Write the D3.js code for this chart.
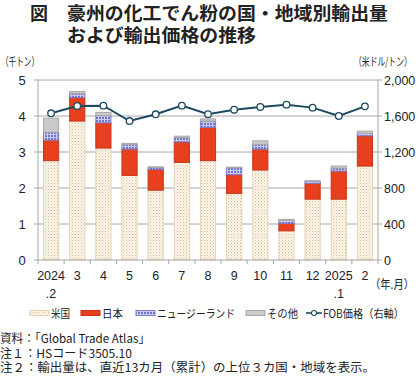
<!DOCTYPE html>
<html><head><meta charset="utf-8">
<script src="https://cdn.jsdelivr.net/npm/d3@7"></script>
<style>
body{margin:0;background:#fff;}
svg{display:block;}
text{font-family:"Noto Sans CJK JP","Liberation Sans",sans-serif;}
.num{font-family:"Liberation Sans",Arial,sans-serif;}
</style></head>
<body>
<svg id="c" width="420" height="378"></svg>
<script>
const months = ["2024\n.2","3","4","5","6","7","8","9","10","11","12","2025\n.1","2"];
const usa   = [2.76,3.86,3.11,2.35,1.94,2.71,2.76,1.85,2.50,0.81,1.69,1.69,2.61];
const japan = [0.57,0.65,0.70,0.73,0.58,0.57,0.92,0.52,0.58,0.21,0.44,0.78,0.84];
const nz    = [0.22,0.11,0.20,0.13,0.05,0.12,0.18,0.19,0.13,0.08,0.06,0.08,0.07];
const other = [0.39,0.06,0.09,0.03,0.02,0.04,0.06,0.02,0.10,0.03,0.01,0.06,0.06];
const fob   = [1630,1711,1715,1544,1619,1715,1620,1670,1700,1726,1693,1600,1707];
const leftTicks = [0,1,2,3,4,5];
const rightTicks = [0,400,800,1200,1600,2000];
const seriesNames = ["米国","日本","ニュージーランド","その他"];

const svg = d3.select("#c");
const defs = svg.append("defs");
const pUS = defs.append("pattern").attr("id","pUS").attr("patternUnits","userSpaceOnUse").attr("width",3).attr("height",3);
pUS.append("rect").attr("width",3).attr("height",3).attr("fill","#fcf6ec");
pUS.append("rect").attr("x",0).attr("y",0).attr("width",1).attr("height",1).attr("fill","#dcbb8e");
pUS.append("rect").attr("x",1.5).attr("y",1.5).attr("width",1).attr("height",1).attr("fill","#e8cfab");
const pNZ = defs.append("pattern").attr("id","pNZ").attr("patternUnits","userSpaceOnUse").attr("width",3).attr("height",3);
pNZ.append("rect").attr("width",3).attr("height",3).attr("fill","#6e70cf");
pNZ.append("rect").attr("x",2).attr("y",0).attr("width",1).attr("height",3).attr("fill","#d8daf4");
pNZ.append("rect").attr("x",0).attr("y",2).attr("width",3).attr("height",1).attr("fill","#c8caf0");

const L=38, R=378, T=80, B=260;
const x = d3.scaleBand().domain(d3.range(months.length)).range([L,R]).paddingInner(0.42).paddingOuter(0.21);
const xb = d3.scaleBand().domain(d3.range(months.length)).range([L,R]);
const y = d3.scaleLinear().domain([0,5]).range([B,T]);
const y2 = d3.scaleLinear().domain([0,2000]).range([B,T]);

// grid
svg.append("g").selectAll("line").data(leftTicks.slice(1)).join("line")
  .attr("x1",L-4).attr("x2",R+4).attr("y1",d=>y(d)).attr("y2",d=>y(d))
  .attr("stroke","#a6a6a6").attr("stroke-width",1);

// bars
const fills = ["url(#pUS)","#e8401e","url(#pNZ)","#c9c9c9"];
const strokes = ["#e6d2b5","#c8321a","#7c7ec8","#a9a9a9"];
const data = months.map((m,i)=>({i,vals:[usa[i],japan[i],nz[i],other[i]]}));
data.forEach(d=>{
  let base=0;
  d.vals.forEach((v,k)=>{
    svg.append("rect").attr("x",x(d.i)).attr("width",x.bandwidth())
      .attr("y",y(base+v)).attr("height",y(base)-y(base+v))
      .attr("fill",fills[k]).attr("stroke",strokes[k]).attr("stroke-width",1);
    base+=v;
  });
});

// axes lines
svg.append("line").attr("x1",L).attr("x2",L).attr("y1",T).attr("y2",B).attr("stroke","#a6a6a6");
svg.append("line").attr("x1",R).attr("x2",R).attr("y1",T).attr("y2",B).attr("stroke","#a6a6a6");
svg.append("line").attr("x1",L-4).attr("x2",R+4).attr("y1",B).attr("y2",B).attr("stroke","#a6a6a6");
svg.append("g").selectAll("line").data(d3.range(months.length+1)).join("line")
  .attr("x1",d=>L+d*xb.step()).attr("x2",d=>L+d*xb.step()).attr("y1",B).attr("y2",B+4).attr("stroke","#a6a6a6");

// line
const lineG = d3.line().x((d,i)=>xb(i)+xb.bandwidth()/2).y(d=>y2(d));
svg.append("path").datum(fob).attr("d",lineG).attr("fill","none").attr("stroke","#1d4a63").attr("stroke-width",2);
svg.append("g").selectAll("circle").data(fob).join("circle")
  .attr("cx",(d,i)=>xb(i)+xb.bandwidth()/2).attr("cy",d=>y2(d)).attr("r",3.3)
  .attr("fill","#fff").attr("stroke","#1d4a63").attr("stroke-width",1.3);

// tick labels
svg.append("g").selectAll("text").data(leftTicks).join("text").attr("class","num")
  .attr("x",22).attr("y",d=>y(d)+5).attr("text-anchor","middle")
  .attr("font-size",13).attr("fill","#222").text(d=>d);
svg.append("g").selectAll("text").data(rightTicks).join("text").attr("class","num")
  .attr("x",384).attr("y",d=>y2(d)+5).attr("text-anchor","start")
  .attr("font-size",12.5).attr("fill","#222").text(d=>d3.format(",")(d));
months.forEach((m,i)=>{
  const parts=m.split("\n");
  parts.forEach((p,j)=>{
    svg.append("text").attr("class","num").attr("x",xb(i)+xb.bandwidth()/2).attr("y",280+j*18)
      .attr("text-anchor","middle").attr("font-size",12.5).attr("fill","#222").text(p);
  });
});
function fitText(sel,len){return sel.attr("textLength",len).attr("lengthAdjust","spacingAndGlyphs");}
fitText(svg.append("text").attr("x",370).attr("y",289).attr("font-size",12).attr("fill","#222").text("（年.月）"),44);
fitText(svg.append("text").attr("x",1).attr("y",66).attr("font-size",11.5).attr("fill","#222").text("（千トン）"),38);
svg.append("text").attr("transform","translate(354,66) scale(0.68,1)").attr("font-size",11.5).attr("fill","#222").text("（米ドル/トン）");

// title
svg.append("text").attr("x",30).attr("y",20).attr("font-size",18).attr("font-weight","bold").attr("fill","#222").text("図");
fitText(svg.append("text").attr("x",67).attr("y",20).attr("font-size",18).attr("font-weight","bold").attr("fill","#222").text("豪州の化工でん粉の国・地域別輸出量"),321);
fitText(svg.append("text").attr("x",67).attr("y",42).attr("font-size",18).attr("font-weight","bold").attr("fill","#222").text("および輸出価格の推移"),189);

// legend
const lg = svg.append("g");
const legX = [30,81,136,246];
const legW = [19,21,78,31];
seriesNames.forEach((n,k)=>{
  lg.append("rect").attr("x",legX[k]).attr("y",310.5).attr("width",19).attr("height",5)
    .attr("fill",fills[k]).attr("stroke",strokes[k]).attr("stroke-width",1);
  fitText(lg.append("text").attr("x",legX[k]+21).attr("y",317.5).attr("font-size",11.5).attr("fill","#222").text(n),legW[k]);
});
lg.append("line").attr("x1",306).attr("x2",322).attr("y1",313).attr("y2",313).attr("stroke","#1d4a63").attr("stroke-width",1.6);
lg.append("circle").attr("cx",314).attr("cy",313).attr("r",2.5).attr("fill","#fff").attr("stroke","#1d4a63").attr("stroke-width",1.1);
fitText(lg.append("text").attr("x",323).attr("y",317.5).attr("font-size",11.5).attr("fill","#222").text("FOB価格（右軸）"),81);

// notes
const notes = ["資料：「Global Trade Atlas」","注１：HSコード3505.10","注２：輸出量は、直近13カ月（累計）の上位３カ国・地域を表示。"];
const noteW = [150,132,375];
notes.forEach((t,i)=>fitText(svg.append("text").attr("x",0).attr("y",343+i*14.5).attr("font-size",12).attr("fill","#222").text(t),noteW[i]));
</script>
</body></html>
